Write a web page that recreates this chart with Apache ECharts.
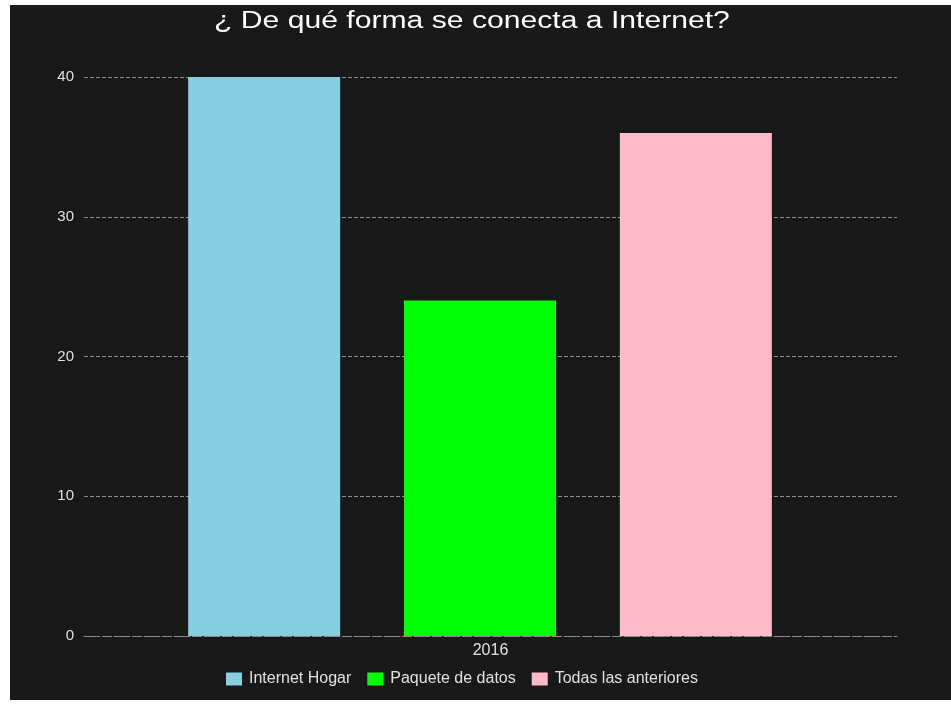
<!DOCTYPE html>
<html>
<head>
<meta charset="utf-8">
<script src="https://cdn.jsdelivr.net/npm/echarts@6/dist/echarts.min.js"></script>
<style>
html,body{margin:0;padding:0;background:#ffffff;width:951px;height:708px;overflow:hidden;}
#chart{position:absolute;left:10px;top:5px;width:941px;height:695px;}
</style>
</head>
<body>
<div id="chart"></div>
<script>
const titleText = '¿ De qué forma se conecta a Internet?';
const categories = ['2016'];
const seriesNames = ['Internet Hogar', 'Paquete de datos', 'Todas las anteriores'];
const internetHogar = [40];
const paqueteDatos = [24];
const todasAnteriores = [36];
const yTicks = [0, 10, 20, 30, 40];
const colors = ['#87CEE0', '#00FF00', '#FFBBCA'];

const chart = echarts.init(document.getElementById('chart'));
const font = 'Liberation Sans, Arial, sans-serif';
const seriesData = [internetHogar, paqueteDatos, todasAnteriores];
const yMin = yTicks[0], yMax = yTicks[yTicks.length - 1], yStep = yTicks[1] - yTicks[0];
chart.setOption({
  backgroundColor: '#191919',
  animation: false,
  graphic: [{
    type: 'text',
    x: 204,
    y: 5,
    scaleX: 1.31,
    style: {
      text: titleText,
      fill: '#ffffff',
      font: 'normal 23px Liberation Sans, Arial, sans-serif',
      textAlign: 'left',
      textVerticalAlign: 'top'
    }
  }],
  legend: {
    data: seriesNames,
    top: 661,
    left: 211,
    itemWidth: 16,
    itemHeight: 13,
    itemGap: 16,
    icon: 'rect',
    textStyle: {color: '#E0E0E3', fontSize: 16, fontFamily: font, padding: [0, 0, 0, 2]}
  },
  grid: [
    {left: 74, right: 54, top: 72, bottom: 64, containLabel: false},
    {left: 74, right: 75, top: 72, bottom: 64, containLabel: false}
  ],
  xAxis: [{
    type: 'category',
    gridIndex: 0,
    data: categories,
    axisLine: {show: true, lineStyle: {color: '#8a8a8a', type: [6, 4]}},
    axisTick: {show: false},
    axisLabel: {color: '#E0E0E3', fontSize: 16, fontFamily: font, margin: 7}
  }, {
    type: 'category',
    gridIndex: 1,
    data: categories,
    show: false
  }],
  yAxis: [{
    type: 'value',
    gridIndex: 0,
    min: yMin,
    max: yMax,
    interval: yStep,
    axisLine: {show: false},
    axisTick: {show: false},
    axisLabel: {color: '#E0E0E3', fontSize: 15, fontFamily: font, margin: 10},
    splitLine: {show: true, lineStyle: {color: '#8a8a8a', type: [4, 2], width: 1}}
  }, {
    type: 'value',
    gridIndex: 1,
    min: yMin,
    max: yMax,
    interval: yStep,
    show: false,
    splitLine: {show: false}
  }],
  series: seriesNames.map((n, i) => ({
    name: n,
    type: 'bar',
    xAxisIndex: 1,
    yAxisIndex: 1,
    data: seriesData[i],
    itemStyle: {color: colors[i]},
    barGap: '42%',
    barCategoryGap: '26.3%'
  }))
});
</script>
</body>
</html>
